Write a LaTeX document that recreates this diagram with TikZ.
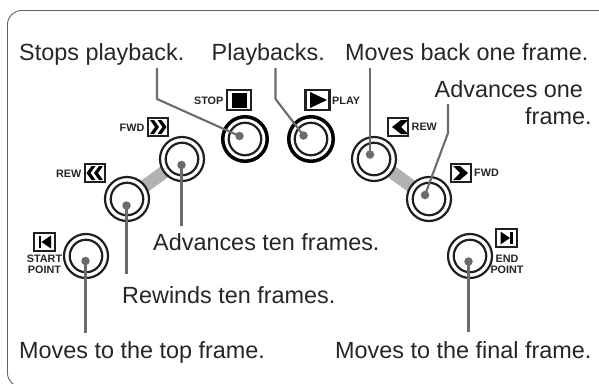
\documentclass[tikz,border=0pt]{standalone}
\usepackage{fontspec}
\setmainfont{Liberation Sans}
\tikzset{
  x=1pt,y=-1pt,
  captext/.style={font=\fontsize{23.4}{28}\selectfont,text=black!85,inner sep=0pt,anchor=base west},
  smalltext/.style={font=\bfseries\fontsize{10.8}{11}\selectfont,text=black!85,inner sep=0pt,align=center},
  lead/.style={draw=black!58,line width=2.1pt,line join=round},
  leaddot/.style={circle,fill=black!58,draw=none,minimum size=8.5pt,inner sep=0pt},
  outerring/.style={circle,draw=black!88,fill=white,line width=2.2pt,minimum size=44pt,inner sep=0pt},
  innerring/.style={circle,draw=black!88,line width=2.2pt,minimum size=32.5pt,inner sep=0pt},
  boldouter/.style={circle,draw=black,fill=white,line width=3.5pt,minimum size=44.5pt,inner sep=0pt},
  iconbox/.style={draw=black!88,line width=2.4pt,fill=white,inner sep=0pt,minimum width=20.5pt,minimum height=17.5pt},
  bridge/.style={draw=black!30,line width=13pt},
}
\newcommand{\ringbtn}[4]{%
  \node[#4] (#1o) at (#2,#3) {};
  \node[innerring] (#1i) at (#2,#3) {};
}
\begin{document}
\begin{tikzpicture}
\useasboundingbox (0,0) rectangle (599,383);
\fill[white] (0,0) rectangle (599,383);
\begin{scope}
\clip (0,0) rectangle (599,383);
\draw[black!62,line width=0.9pt,rounded corners=14pt] (640,10.5) -- (7.5,10.5) -- (7.5,387) -- (640,387);
\end{scope}

% bridges
\coordinate (bl1) at (127,199);
\coordinate (bl2) at (182,159);
\coordinate (br1) at (374,159);
\coordinate (br2) at (429,199);
\draw[bridge] (bl1) -- (bl2);
\draw[bridge] (br1) -- (br2);

% buttons
\ringbtn{sp}{86}{256}{outerring}
\ringbtn{rw}{127}{199}{outerring}
\ringbtn{fw}{182}{159}{outerring}
\ringbtn{st}{245}{139}{boldouter}
\ringbtn{pl}{311}{139}{boldouter}
\ringbtn{bk}{374}{159}{outerring}
\ringbtn{ad}{429}{199}{outerring}
\ringbtn{ep}{470}{256}{outerring}

% captions
\node[captext] (t1) at (19,60) {Stops playback.};
\node[captext] (t2) at (211.5,60) {Playbacks.};
\node[captext] (t3) at (345,60) {Moves back one frame.};
\node[captext] (t4) at (434.5,97) {Advances one};
\node[captext] (t5) at (525,124) {frame.};
\node[captext] (t6) at (153,250) {Advances ten frames.};
\node[captext] (t7) at (122,303) {Rewinds ten frames.};
\node[captext] (t8) at (19,358) {Moves to the top frame.};
\node[captext] (t9) at (335,358) {Moves to the final frame.};

% leader end points
\node[leaddot] (d1) at (239.5,136) {};
\node[leaddot] (d2) at (303.5,135.5) {};
\node[leaddot] (d3) at (370,154.5) {};
\node[leaddot] (d4) at (425,195) {};
\node[leaddot] (d5) at (181.5,165) {};
\node[leaddot] (d6) at (126.5,205.5) {};
\node[leaddot] (d7) at (85.5,261) {};
\node[leaddot] (d8) at (468.5,261.5) {};
\coordinate (c1) at (157,68);
\coordinate (b1) at (157,99);
\coordinate (c2) at (275.5,68);
\coordinate (b2) at (275.5,99);
\coordinate (c3) at (370,68);
\coordinate (c4) at (448,104);
\coordinate (b4) at (448,133);
\coordinate (c5) at (181.5,226);
\coordinate (c6) at (126.5,274);
\coordinate (c7) at (85.5,333);
\coordinate (c8) at (468.5,332);
\draw[lead] (c1) -- (b1) -- (d1.center);
\draw[lead] (c2) -- (b2) -- (d2.center);
\draw[lead] (c3) -- (d3.center);
\draw[lead] (c4) -- (b4) -- (d4.center);
\draw[lead] (c5) -- (d5.center);
\draw[lead] (c6) -- (d6.center);
\draw[lead] (c7) -- (d7.center);
\draw[lead] (c8) -- (d8.center);

% small labels and icons
\node[smalltext,anchor=east] (l1) at (223.5,100.5) {STOP};
\node[iconbox,minimum width=24pt,minimum height=20pt] (i1) at (239,100) {};
\fill[black] (231.5,92.5) rectangle (246.5,107.5);
\node[iconbox,minimum width=24pt,minimum height=20pt] (i2) at (317.5,100) {};
\fill[black] (310,92) -- (310,108) -- (327,100) -- cycle;
\node[smalltext,anchor=west] (l2) at (332,100.5) {PLAY};

\node[iconbox] (i3) at (158,127) {};
\node[smalltext,anchor=east] (l3) at (144.5,127.5) {FWD};
\fill[black] (150,120) -- (154,120) -- (159,127) -- (154,134) -- (150,134) -- (155,127) -- cycle;
\fill[black] (157.5,120) -- (161.5,120) -- (166.5,127) -- (161.5,134) -- (157.5,134) -- (162.5,127) -- cycle;

\node[iconbox] (i4) at (95,173) {};
\node[smalltext,anchor=east] (l4) at (81.5,173.5) {REW};
\fill[black] (103,166) -- (99,166) -- (94,173) -- (99,180) -- (103,180) -- (98,173) -- cycle;
\fill[black] (95.5,166) -- (91.5,166) -- (86.5,173) -- (91.5,180) -- (95.5,180) -- (90.5,173) -- cycle;

\node[iconbox] (i5) at (398,127) {};
\node[smalltext,anchor=west] (l5) at (411.5,127) {REW};
\fill[black] (408,120) -- (401,120) -- (392,127) -- (401,134) -- (408,134) -- (401,127) -- cycle;

\node[iconbox] (i6) at (461,173) {};
\node[smalltext,anchor=west] (l6) at (474,173) {FWD};
\fill[black] (453,166) -- (460,166) -- (468,173) -- (460,180) -- (453,180) -- (460,173) -- cycle;

\node[iconbox] (i7) at (44.5,242) {};
\fill[black] (38.5,236) rectangle (41,248);
\fill[black] (51,235.5) -- (51,248.5) -- (41.5,242) -- cycle;
\node[smalltext,anchor=north] (l7) at (44.5,254.5) {START\\POINT};

\node[iconbox] (i8) at (506.5,238) {};
\fill[black] (512.5,232) rectangle (510,244);
\fill[black] (500.5,231.5) -- (500.5,244.5) -- (510,238) -- cycle;
\node[smalltext,anchor=north] (l8) at (507,255) {END\\POINT};
\end{tikzpicture}
\end{document}
